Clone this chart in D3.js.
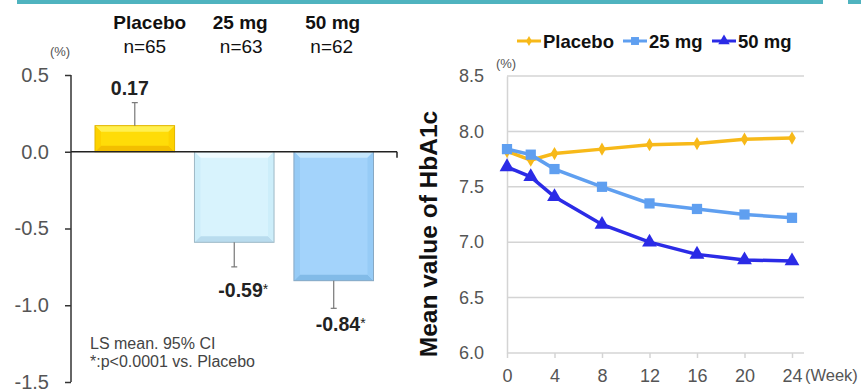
<!DOCTYPE html>
<html>
<head>
<meta charset="utf-8">
<title>HbA1c change and mean value</title>
<script src="https://d3js.org/d3.v7.min.js"></script>
<style>
  body { margin: 0; background: #fff; }
  text { font-family: "Liberation Sans", Arial, sans-serif; }
</style>
</head>
<body>
<script>
// left panel: LS mean change from baseline
var groups = ["Placebo", "25 mg", "50 mg"];
var groupN = ["n=65", "n=63", "n=62"];
var changeMean = [0.17, -0.59, -0.84];
var ciBound = [0.32, -0.75, -1.02];
var barTicks = [0.5, 0.0, -0.5, -1.0, -1.5];

// right panel: mean HbA1c over time
var weeks = [0, 2, 4, 8, 12, 16, 20, 24];
var placebo = [7.82, 7.74, 7.80, 7.84, 7.88, 7.89, 7.93, 7.94];
var mg25 = [7.84, 7.79, 7.66, 7.50, 7.35, 7.30, 7.25, 7.22];
var mg50 = [7.68, 7.59, 7.41, 7.16, 7.00, 6.89, 6.84, 6.83];
var weekTicks = [0, 4, 8, 12, 16, 20, 24];
var hbTicks = [6.0, 6.5, 7.0, 7.5, 8.0, 8.5];

var fmt1 = function(d) { return d3.format(".1f")(d).replace("\u2212", "-"); };
var fmt2 = function(d) { return d3.format(".2f")(d).replace("\u2212", "-"); };

var svg = d3.select("body").append("svg")
  .attr("width", 861).attr("height", 390);

// teal band at top
svg.append("rect").attr("x", 17).attr("y", 0).attr("width", 806).attr("height", 4).attr("fill", "#4fb3bf");
svg.append("rect").attr("x", 848).attr("y", 0).attr("width", 13).attr("height", 4).attr("fill", "#4fb3bf");

// ---------- left: bar chart ----------
var y1 = d3.scaleLinear().domain([-1.5, 0.5]).range([382, 75]);
var x1 = d3.scaleBand().domain(groups).range([95, 373.5]).paddingInner(0.2).paddingOuter(0);

var barStyle = [
  { main: "#ffdc08", top: "#fff050", bottom: "#f3be00", side: "#fdd200", edge: "#e2b600" },
  { main: "#d8f3fd", top: "#f0fbff", bottom: "#b9dcee", side: "#cdeefa", edge: "#9fb9c6" },
  { main: "#a3d3fb", top: "#c6e7fd", bottom: "#82bbe8", side: "#96cbf6", edge: "#88a9c4" }
];

var left = svg.append("g");

left.selectAll("g.bar").data(groups).enter().append("g").attr("class", "bar")
  .each(function(g, i) {
    var el = d3.select(this);
    var x0 = x1(g), xR = x0 + x1.bandwidth();
    var yA = y1(Math.max(0, changeMean[i])), yB = y1(Math.min(0, changeMean[i]));
    var b = 6, s = barStyle[i];
    var pts = function(a) { return a.map(function(p) { return p.join(","); }).join(" "); };
    el.append("rect").attr("x", x0).attr("y", yA).attr("width", xR - x0).attr("height", yB - yA)
      .attr("fill", s.main);
    el.append("polygon").attr("points", pts([[x0, yA], [xR, yA], [xR - b, yA + b], [x0 + b, yA + b]])).attr("fill", s.top);
    el.append("polygon").attr("points", pts([[x0, yB], [xR, yB], [xR - b, yB - b], [x0 + b, yB - b]])).attr("fill", s.bottom);
    el.append("polygon").attr("points", pts([[x0, yA], [x0 + b, yA + b], [x0 + b, yB - b], [x0, yB]])).attr("fill", s.side);
    el.append("polygon").attr("points", pts([[xR, yA], [xR - b, yA + b], [xR - b, yB - b], [xR, yB]])).attr("fill", s.side);
    el.append("rect").attr("x", x0).attr("y", yA).attr("width", xR - x0).attr("height", yB - yA)
      .attr("fill", "none").attr("stroke", s.edge).attr("stroke-width", 1);
    // error bar
    var cx = x0 + x1.bandwidth() / 2;
    el.append("line").attr("x1", cx).attr("x2", cx)
      .attr("y1", y1(changeMean[i])).attr("y2", y1(ciBound[i]))
      .attr("stroke", "#777").attr("stroke-width", 1.2);
    el.append("line").attr("x1", cx - 3).attr("x2", cx + 3)
      .attr("y1", y1(ciBound[i])).attr("y2", y1(ciBound[i]))
      .attr("stroke", "#777").attr("stroke-width", 1.2);
  });

// y axis
var yAxis1 = left.append("g").attr("transform", "translate(71,0)")
  .call(d3.axisLeft(y1).tickValues(barTicks).tickSize(6).tickFormat(fmt1));
yAxis1.select(".domain").attr("stroke", "#333").attr("stroke-width", 1.5).attr("d", "M0,75V382");
yAxis1.selectAll(".tick line").attr("stroke", "#333").attr("stroke-width", 1.5);
yAxis1.selectAll(".tick text").attr("font-size", 20).attr("fill", "#555").attr("x", -22);

// zero line
left.append("line").attr("x1", 71).attr("x2", 397).attr("y1", y1(0)).attr("y2", y1(0))
  .attr("stroke", "#222").attr("stroke-width", 1.5);
left.append("line").attr("x1", 397).attr("x2", 397).attr("y1", y1(0)).attr("y2", y1(0) + 6)
  .attr("stroke", "#222").attr("stroke-width", 1.5);

left.append("text").attr("x", 60).attr("y", 56).attr("text-anchor", "middle")
  .attr("font-size", 13).attr("fill", "#555").text("(%)");

// group headers
var headDx = [15, 6, -1], nDx = [10, 7, -2];
left.selectAll("text.grp").data(groups).enter().append("text").attr("class", "grp")
  .attr("x", function(g, i) { return x1(g) + x1.bandwidth() / 2 + headDx[i]; })
  .attr("y", 29).attr("text-anchor", "middle")
  .attr("font-size", 19).attr("font-weight", "bold").attr("fill", "#111")
  .text(function(g) { return g; });
left.selectAll("text.n").data(groupN).enter().append("text").attr("class", "n")
  .attr("x", function(d, i) { return x1(groups[i]) + x1.bandwidth() / 2 + nDx[i]; })
  .attr("y", 53).attr("text-anchor", "middle")
  .attr("font-size", 19).attr("fill", "#111")
  .text(function(d) { return d; });

// value labels
var valDx = [-5, 9, 7], valY = [95, 297, 331];
left.selectAll("text.val").data(changeMean).enter().append("text").attr("class", "val")
  .attr("x", function(d, i) { return x1(groups[i]) + x1.bandwidth() / 2 + valDx[i]; })
  .attr("y", function(d, i) { return valY[i]; })
  .attr("text-anchor", "middle")
  .attr("font-size", 19.5).attr("font-weight", "bold").attr("fill", "#222")
  .each(function(d, i) {
    var t = d3.select(this);
    t.append("tspan").text(fmt2(d));
    if (i > 0) t.append("tspan").attr("font-size", 14).attr("font-weight", "normal").attr("dy", -3).text("*");
  });

left.append("text").attr("x", 90).attr("y", 349).attr("font-size", 16).attr("fill", "#444").text("LS mean. 95% CI");
left.append("text").attr("x", 90).attr("y", 367).attr("font-size", 16).attr("fill", "#444").text("*:p<0.0001 vs. Placebo");

// ---------- right: line chart ----------
var x2 = d3.scaleLinear().domain([0, 24]).range([507, 792]);
var y2 = d3.scaleLinear().domain([6.0, 8.5]).range([353, 76]);
var right = svg.append("g");

right.selectAll("line.grid").data(hbTicks.filter(function(d) { return d > 6; })).enter().append("line")
  .attr("class", "grid").attr("x1", 507).attr("x2", 804)
  .attr("y1", function(d) { return y2(d); }).attr("y2", function(d) { return y2(d); })
  .attr("stroke", "#d4d4d4").attr("stroke-width", 1.5);

var yAxis2 = right.append("g").attr("transform", "translate(507,0)")
  .call(d3.axisLeft(y2).tickValues(hbTicks).tickSize(0).tickFormat(fmt1));
yAxis2.select(".domain").attr("stroke", "#d4d4d4").attr("stroke-width", 1.5);
yAxis2.selectAll(".tick text").attr("font-size", 18).attr("fill", "#555").attr("x", -23);

var xAxis2 = right.append("g").attr("transform", "translate(0,353)")
  .call(d3.axisBottom(x2).tickValues(weekTicks).tickSize(5).tickSizeOuter(0));
xAxis2.select(".domain").attr("stroke", "#d4d4d4").attr("stroke-width", 1.5).attr("d", "M507,0H804");
xAxis2.selectAll(".tick line").attr("stroke", "#d4d4d4").attr("stroke-width", 1.5);
xAxis2.selectAll(".tick text").attr("font-size", 18).attr("fill", "#555").attr("y", 12).attr("dy", "0.95em");

right.append("text").attr("x", 805).attr("y", 381).attr("font-size", 16.5).attr("fill", "#555").text("(Week)");
right.append("text").attr("x", 506).attr("y", 68).attr("text-anchor", "middle")
  .attr("font-size", 13).attr("fill", "#555").text("(%)");
right.append("text").attr("transform", "translate(437,234) rotate(-90)").attr("text-anchor", "middle")
  .attr("font-size", 24.5).attr("font-weight", "bold").attr("fill", "#111").text("Mean value of HbA1c");

var series = [
  { name: "Placebo", values: placebo, color: "#f7b919", shape: d3.symbolDiamond, size: 50 },
  { name: "25 mg", values: mg25, color: "#5f9ff0", shape: d3.symbolSquare, size: 105 },
  { name: "50 mg", values: mg50, color: "#2b2be6", shape: d3.symbolTriangle, size: 95 }
];

var line = d3.line().x(function(d, i) { return x2(weeks[i]); }).y(function(d) { return y2(d); });

series.forEach(function(s) {
  var g = right.append("g");
  g.append("path").datum(s.values).attr("d", line).attr("fill", "none")
    .attr("stroke", s.color).attr("stroke-width", 3.5);
  g.selectAll("path.pt").data(s.values).enter().append("path").attr("class", "pt")
    .attr("d", d3.symbol().type(s.shape).size(s.size))
    .attr("transform", function(d, i) { return "translate(" + x2(weeks[i]) + "," + y2(d) + ")"; })
    .attr("fill", s.color);
});

// legend
var legX = [517, 623, 712];
var leg = right.selectAll("g.leg").data(series).enter().append("g").attr("class", "leg")
  .attr("transform", function(d, i) { return "translate(" + legX[i] + ",41)"; });
leg.append("line").attr("x1", 0).attr("x2", 24).attr("y1", 0).attr("y2", 0)
  .attr("stroke", function(d) { return d.color; }).attr("stroke-width", 3);
leg.append("path").attr("transform", "translate(12,0)")
  .attr("d", function(d) { return d3.symbol().type(d.shape).size(d.size * 0.6)(); })
  .attr("fill", function(d) { return d.color; });
leg.append("text").attr("x", 26).attr("y", 6.5).attr("font-size", 18.5).attr("font-weight", "bold")
  .attr("fill", "#111").text(function(d) { return d.name; });
</script>
</body>
</html>
